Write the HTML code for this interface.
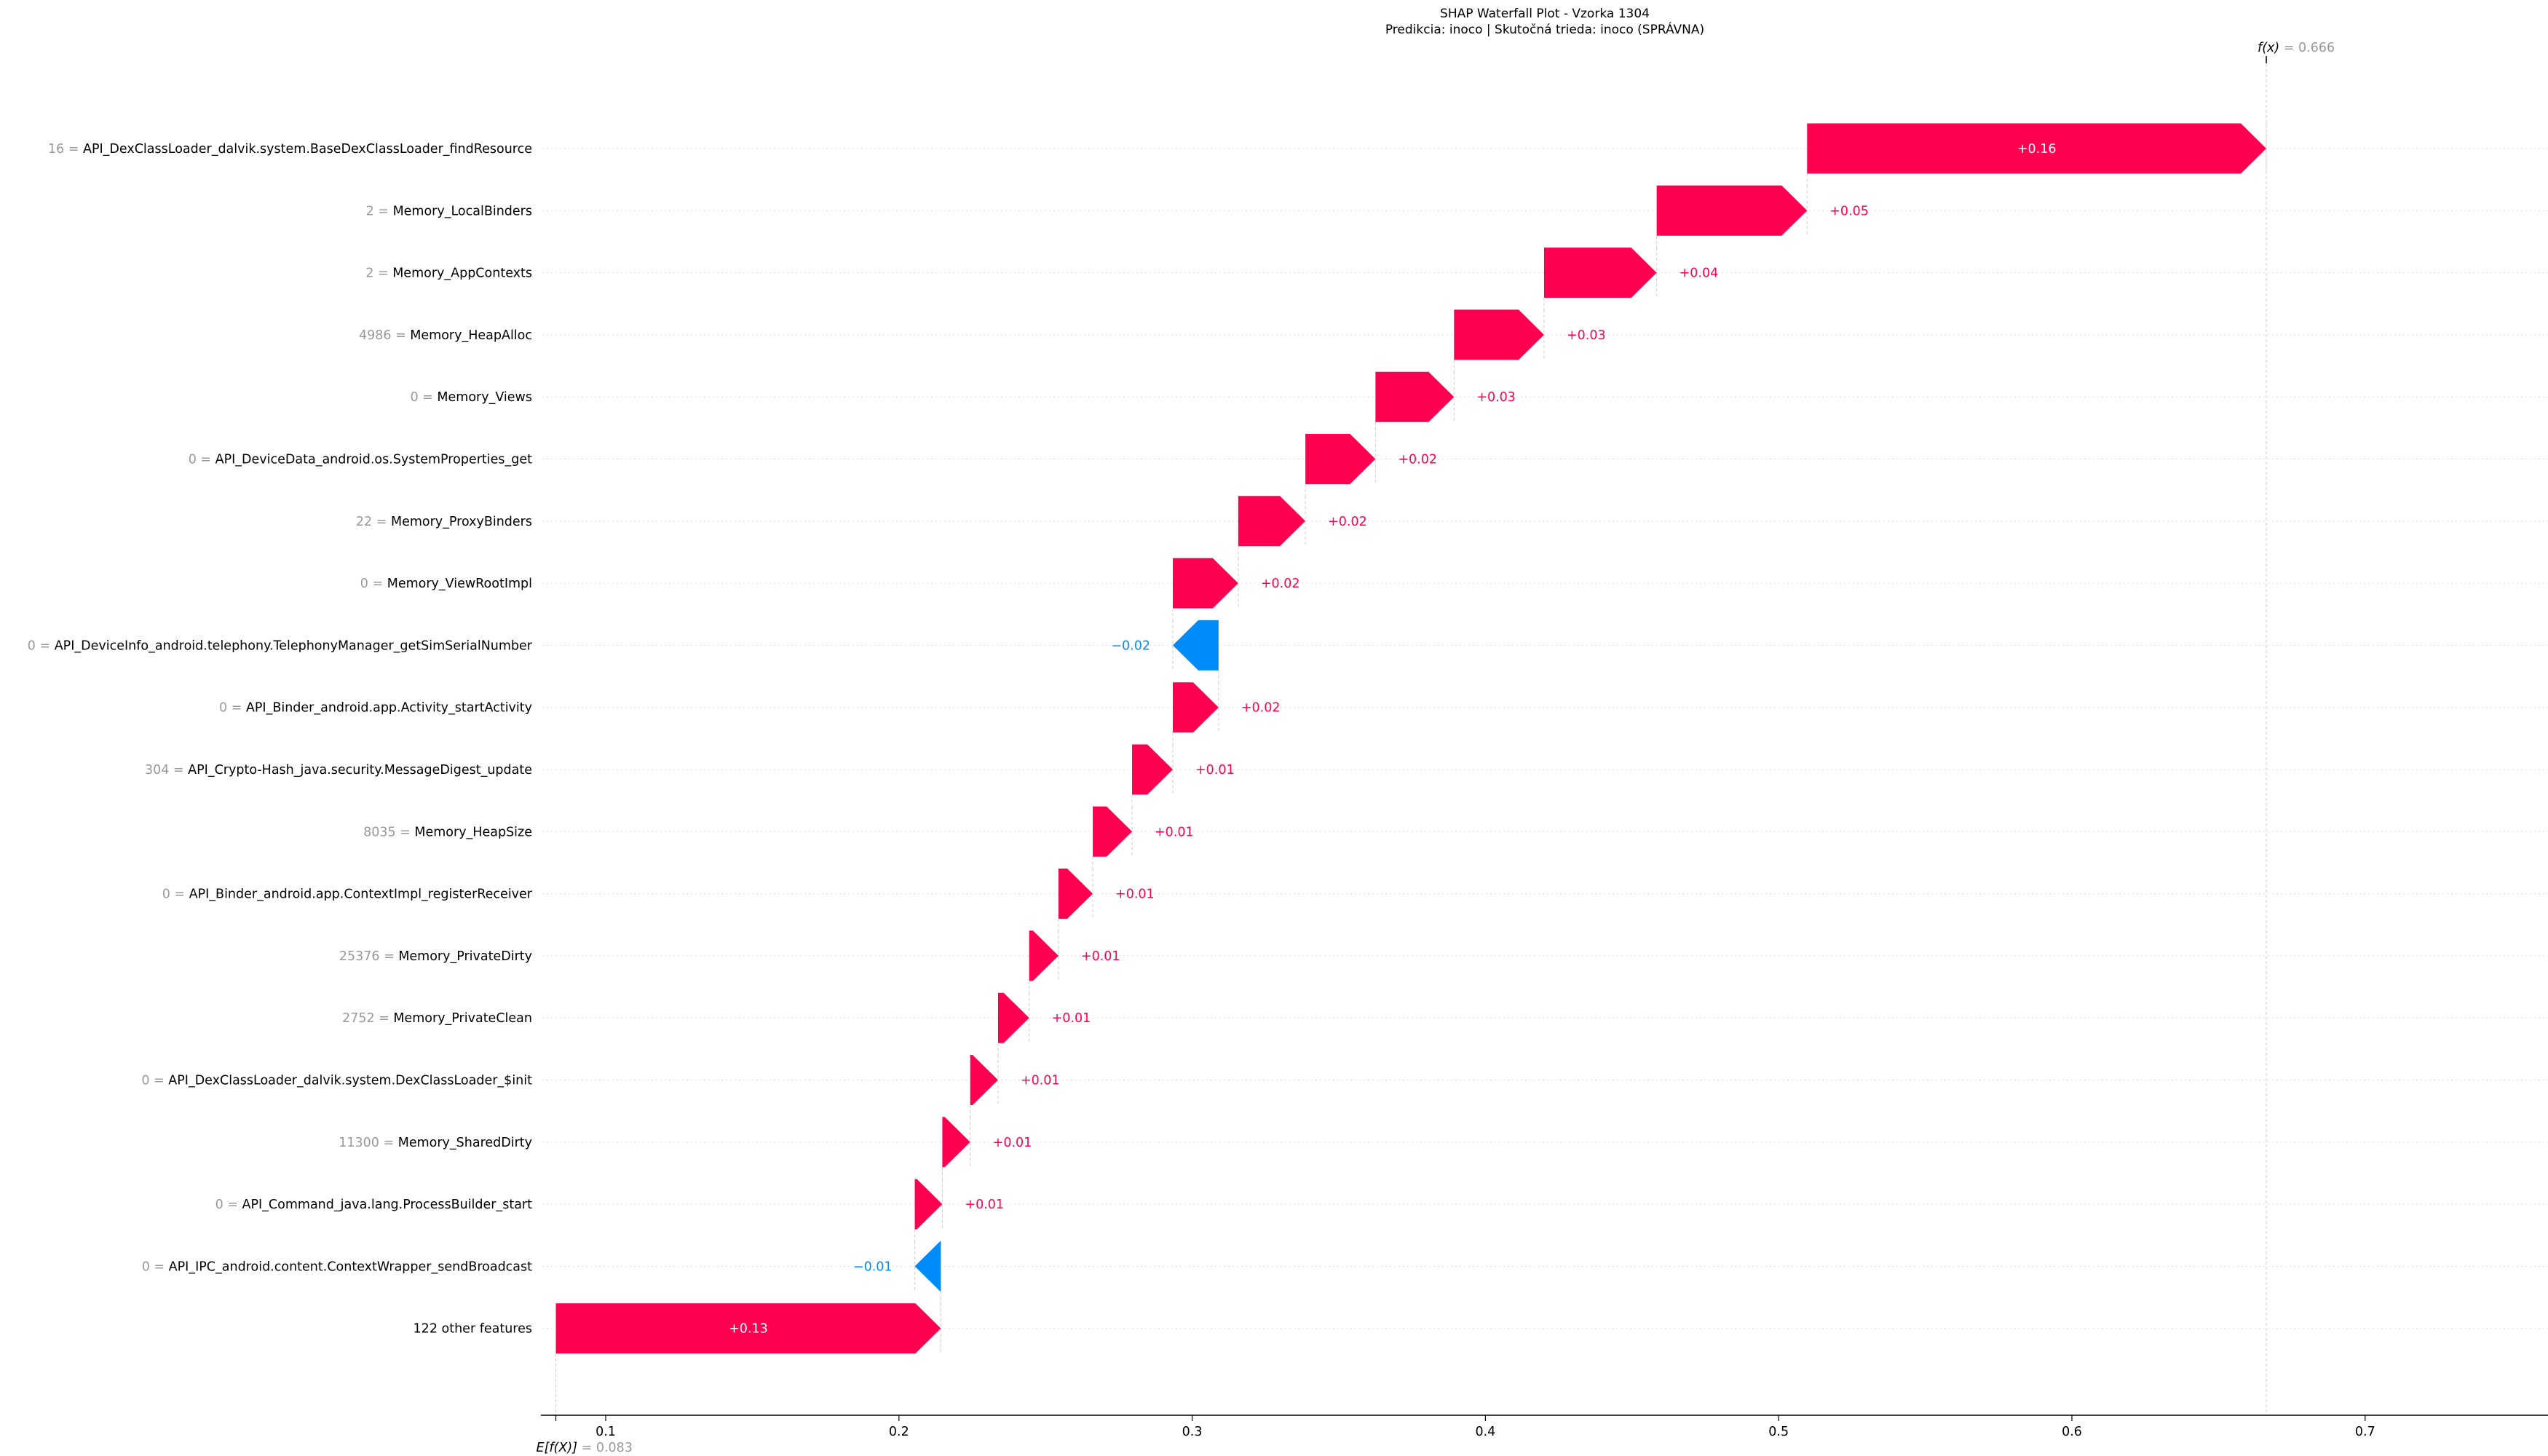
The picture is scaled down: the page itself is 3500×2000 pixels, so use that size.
<!DOCTYPE html>
<html><head><meta charset="utf-8">
<style>
html,body{margin:0;padding:0;background:#fff;}
svg{display:block;font-family:"DejaVu Sans","Liberation Sans",sans-serif;}
</style></head>
<body>
<svg id="chart" width="3500" height="2000" viewBox="0 0 3500 2000" xmlns="http://www.w3.org/2000/svg">
<text x="2122" y="24" font-size="17" text-anchor="middle" fill="#000">SHAP Waterfall Plot - Vzorka 1304</text>
<text x="2122" y="46" font-size="17" text-anchor="middle" fill="#000">Predikcia: inoco | Skutočná trieda: inoco (SPRÁVNA)</text>
<g id="grid"></g><g id="bars"></g><g id="labels"></g><g id="axis"></g>
</svg>
<script>
const featureValues = ["16","2","2","4986","0","0","22","0","0","0","304","8035","0","25376","2752","0","11300","0","0",""];
const featureNames = ["API_DexClassLoader_dalvik.system.BaseDexClassLoader_findResource","Memory_LocalBinders","Memory_AppContexts","Memory_HeapAlloc","Memory_Views","API_DeviceData_android.os.SystemProperties_get","Memory_ProxyBinders","Memory_ViewRootImpl","API_DeviceInfo_android.telephony.TelephonyManager_getSimSerialNumber","API_Binder_android.app.Activity_startActivity","API_Crypto-Hash_java.security.MessageDigest_update","Memory_HeapSize","API_Binder_android.app.ContextImpl_registerReceiver","Memory_PrivateDirty","Memory_PrivateClean","API_DexClassLoader_dalvik.system.DexClassLoader_$init","Memory_SharedDirty","API_Command_java.lang.ProcessBuilder_start","API_IPC_android.content.ContextWrapper_sendBroadcast","122 other features"];
const shapValues = [0.1566,0.0513,0.0384,0.0307,0.0268,0.0239,0.0229,0.0223,-0.0156,0.0156,0.0139,0.0134,0.0117,0.0100,0.0106,0.0095,0.0095,0.0094,-0.0089,0.1313];
const baseValue = 0.083;
const tickValues = [0.1,0.2,0.3,0.4,0.5,0.6,0.7];
const tickLabels = ["0.1","0.2","0.3","0.4","0.5","0.6","0.7"];

const NS="http://www.w3.org/2000/svg";
const X0=832, PX=4028;
function xs(v){return X0+(v-0.1)*PX;}
const ROW0=204, STEP=85.3, BH=69, HEAD=35;
function ys(i){return ROW0+i*STEP;}
function mk(tag,attrs,parent){const e=document.createElementNS(NS,tag);for(const k in attrs)e.setAttribute(k,attrs[k]);parent.appendChild(e);return e;}
const grid=document.getElementById('grid'),bars=document.getElementById('bars'),labels=document.getElementById('labels'),axis=document.getElementById('axis');
const n=shapValues.length;
const starts=new Array(n), ends=new Array(n);
let cum=baseValue;
for(let i=n-1;i>=0;i--){starts[i]=cum;cum+=shapValues[i];ends[i]=cum;}
const fx=cum;
function fmt(v){return (v<0?"\u2212":"+")+Math.abs(v).toFixed(2);}
for(let i=0;i<n;i++){
  const y=ys(i);
  const gl=mk('line',{x1:745,x2:3500,y1:y,y2:y,stroke:'#dddddd','stroke-width':1,'stroke-dasharray':'2,4'},grid);
  
  
  const vl=mk('line',{x1:xs(ends[i]),x2:xs(ends[i]),y1:y-BH/2,y2:y+BH/2,stroke:'#cccccc','stroke-width':1,'stroke-dasharray':'4,3'},grid);
  
  
  const vs=mk('line',{x1:xs(starts[i]),x2:xs(starts[i]),y1:y+BH/2,y2:y+STEP-BH/2,stroke:'#cccccc','stroke-width':1,'stroke-dasharray':'4,3'},grid);
  
  
  const a=xs(starts[i]), b=xs(ends[i]);
  const w=Math.abs(b-a), hl=Math.min(HEAD,w), dir=b>a?1:-1;
  const neck=b-dir*hl;
  const pts=[[a,y-BH/2],[neck,y-BH/2],[b,y],[neck,y+BH/2],[a,y+BH/2]].map(p=>p.join(',')).join(' ');
  const col=shapValues[i]>=0?'#ff0051':'#008bfb';
  const bar=mk('polygon',{points:pts,fill:col},bars);
  
  
  let t;
  if(w>300){
    t=mk('text',{x:(a+b)/2,y:y+6,'font-size':17.5,'text-anchor':'middle',fill:'#fff'},bars);
  } else if(dir>0){
    t=mk('text',{x:b+31,y:y+6,'font-size':17.5,'text-anchor':'start',fill:col},bars);
  } else {
    t=mk('text',{x:b-31,y:y+6,'font-size':17.5,'text-anchor':'end',fill:col},bars);
  }
  t.textContent=fmt(shapValues[i]);
  
  
  const lt=mk('text',{x:731,y:y+6,'font-size':17.5,'text-anchor':'end'},labels);
  
  
  if(featureValues[i]!==""){
    const s1=mk('tspan',{fill:'#999999'},lt);s1.textContent=featureValues[i]+" = ";
  }
  const s2=mk('tspan',{fill:'#000'},lt);s2.textContent=featureNames[i];
}
const bl=mk('line',{x1:xs(baseValue),x2:xs(baseValue),y1:ys(n-1)+BH/2,y2:1944,stroke:'#cccccc','stroke-width':1,'stroke-dasharray':'4,3'},grid);


const fl=mk('line',{x1:xs(fx),x2:xs(fx),y1:81,y2:1944,stroke:'#cccccc','stroke-width':1,'stroke-dasharray':'4,3'},grid);


const ft=mk('line',{x1:xs(fx),x2:xs(fx),y1:77,y2:87,stroke:'#000','stroke-width':1.5},axis);


const fxl=mk('text',{x:xs(fx)-12,y:71,'font-size':17.5},axis);


const f1=mk('tspan',{fill:'#000','font-style':'italic'},fxl);f1.textContent="f(x)";
const f2=mk('tspan',{fill:'#999999'},fxl);f2.textContent=" = "+fx.toFixed(3);
const ax=mk('line',{x1:743,x2:3500,y1:1944,y2:1944,stroke:'#000','stroke-width':1.5},axis);


for(let k=0;k<tickValues.length;k++){
  const x=xs(tickValues[k]);
  const tk=mk('line',{x1:x,x2:x,y1:1944,y2:1952,stroke:'#000','stroke-width':1.2},axis);
  
  
  const tl=mk('text',{x:x,y:1972,'font-size':17.5,'text-anchor':'middle',fill:'#000'},axis);
  tl.textContent=tickLabels[k];
  
  
}
const bt=mk('line',{x1:xs(baseValue),x2:xs(baseValue),y1:1944,y2:1952,stroke:'#000','stroke-width':1.2},axis);


const el=mk('text',{x:xs(baseValue)-27,y:1994,'font-size':17.5},axis);


const e1=mk('tspan',{fill:'#000','font-style':'italic'},el);e1.textContent="E[f(X)]";
const e2=mk('tspan',{fill:'#999999'},el);e2.textContent=" = "+baseValue.toFixed(3);
</script>
</body></html>
